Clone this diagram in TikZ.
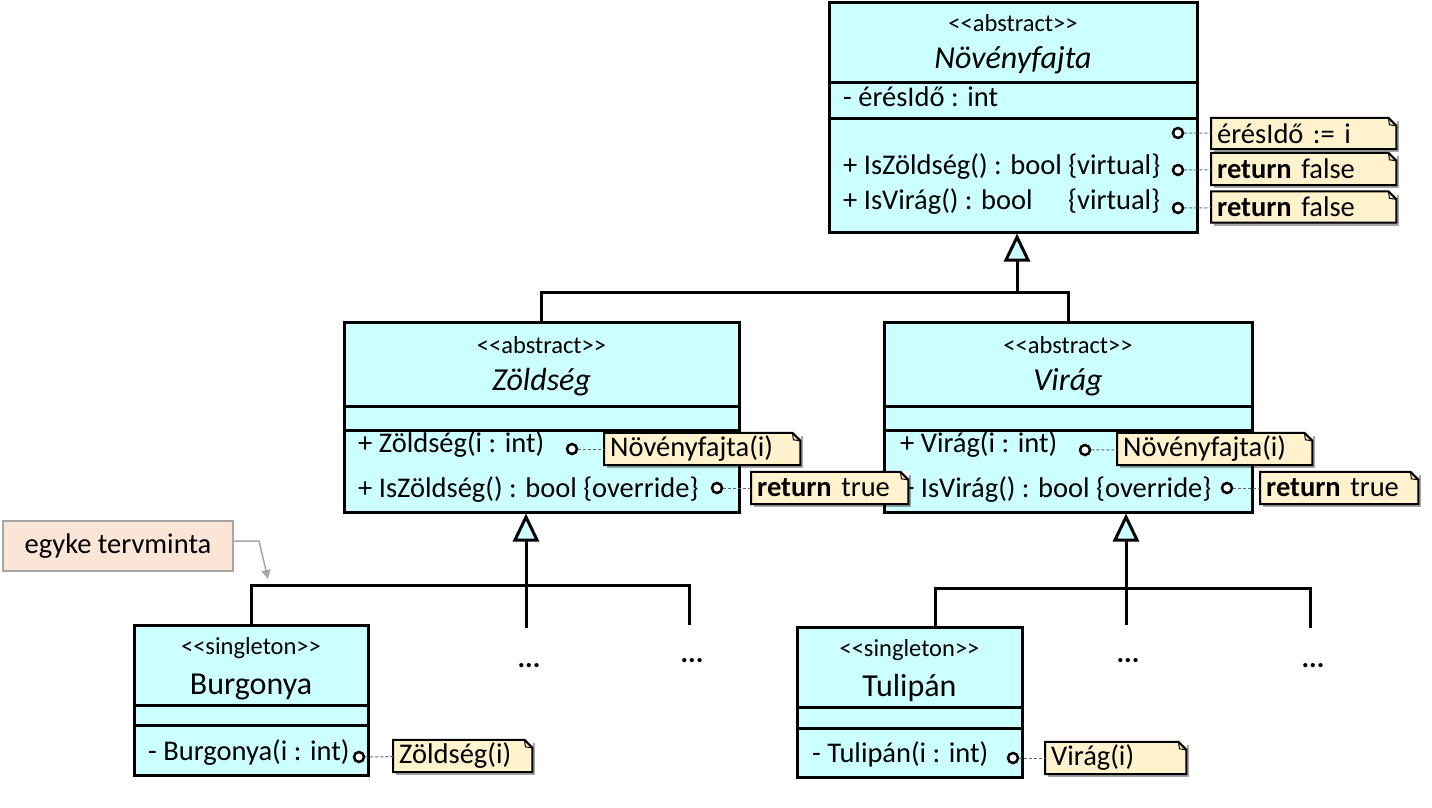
\documentclass[tikz,border=0pt]{standalone}
\usepackage{fontspec}
\setmainfont{Carlito}
\usetikzlibrary{arrows.meta,shadows}
\definecolor{clsfill}{HTML}{CCFFFF}
\definecolor{notefill}{HTML}{FFF2CC}
\definecolor{callfill}{HTML}{FBE5D6}
\definecolor{callline}{HTML}{A6A6A6}
\newcommand\stlt{<\kern0pt<}
\newcommand\stgt{>\kern0pt>}
\newcommand\bodysz{\fontsize{28.5}{32}\selectfont}
\newcommand\notedeco[1]{%
  \fill[white] ([xshift=-8pt]#1.north east) -- ([xshift=1pt,yshift=1pt]#1.north east) -- ([yshift=-8pt]#1.north east) -- cycle;
  \draw[noteline] ([xshift=-8pt]#1.north east) -- (#1.north west) -- (#1.south west) -- (#1.south east) -- ([yshift=-8pt]#1.north east) -- cycle;
  \draw[line width=1pt] ([xshift=-8pt]#1.north east) -- ([xshift=-7pt,yshift=-7pt]#1.north east) -- ([yshift=-8pt]#1.north east);
}
\begin{document}
\begin{tikzpicture}[x=1pt,y=-1pt,
  clsbox/.style={draw=black, line width=3pt, fill=clsfill, inner sep=0pt},
  cline/.style={line width=3pt},
  stereo/.style={font=\fontsize{24.5}{28}\selectfont, anchor=base, inner sep=0pt},
  cname/.style={font=\fontsize{32}{36}\selectfont, anchor=base, inner sep=0pt},
  member/.style={font=\bodysz, anchor=base west, inner sep=0pt},
  lolli/.style={circle, draw=black, fill=white, line width=2.5pt, minimum size=10pt, inner sep=0pt},
  note/.style={fill=notefill, font=\bodysz, anchor=west, minimum height=32pt, inner xsep=6pt, inner ysep=0pt, align=left,
    drop shadow={shadow xshift=3pt, shadow yshift=-3pt, opacity=0.35, fill=black}},
  noteline/.style={line width=2pt, line join=miter},
  notelink/.style={draw=black!60, line width=1pt, dashed, dash pattern=on 3pt off 2pt},
  inh/.style={line width=3pt, -{Triangle[open, length=28pt, width=26pt, fill=clsfill]}},
  branch/.style={line width=3pt},
  dots/.style={font=\bodysz\bfseries, inner sep=0pt},
  callout/.style={draw=callline, fill=callfill, line width=1.5pt, font=\bodysz, minimum width=230pt, minimum height=50pt, inner sep=0pt},
  callarrow/.style={draw=callline, line width=1.5pt, -{Triangle[length=9pt, width=9pt]}}
]
\useasboundingbox (0,0) rectangle (1432,807);

% ---------- Növényfajta ----------
\node[clsbox, minimum width=368pt, minimum height=230pt] (nf) at (1013,117) {};
\draw[cline] (nf.west |- 0,82) -- (nf.east |- 0,82);
\draw[cline] (nf.west |- 0,118) -- (nf.east |- 0,118);
\node[stereo] (nf-st) at (1013,31) {\stlt abstract\stgt};
\node[cname] (nf-nm) at (1013,68) {\itshape Növényfajta};
\node[member] (nf-a1) at (843,106) {- érésIdő : int};
\node[member] (nf-m1) at (843,174) {+ IsZöldség() : bool \{virtual\}};
\node[member] (nf-m2) at (843,209) {+ IsVirág() : bool};
\node[member] (nf-m2b) at (1068,209) {\{virtual\}};
\node[lolli] (c1) at (1178,133) {};
\node[lolli] (c2) at (1178,170) {};
\node[lolli] (c3) at (1178,208) {};

% ---------- Zöldség ----------
\node[clsbox, minimum width=395pt, minimum height=190pt] (zs) at (541.5,417) {};
\draw[cline] (zs.west |- 0,406) -- (zs.east |- 0,406);
\draw[cline] (zs.west |- 0,430) -- (zs.east |- 0,430);
\node[stereo] (zs-st) at (541.5,353) {\stlt abstract\stgt};
\node[cname] (zs-nm) at (541.5,390) {\itshape Zöldség};
\node[member] (zs-m1) at (358,452) {+ Zöldség(i : int)};
\node[member] (zs-m2) at (358,497) {+ IsZöldség() : bool \{override\}};
\node[lolli] (c4) at (572,449) {};
\node[lolli] (c5) at (717,488) {};

% ---------- Virág ----------
\node[clsbox, minimum width=368pt, minimum height=190pt] (vi) at (1068,417) {};
\draw[cline] (vi.west |- 0,406) -- (vi.east |- 0,406);
\draw[cline] (vi.west |- 0,430) -- (vi.east |- 0,430);
\node[stereo] (vi-st) at (1068,353) {\stlt abstract\stgt};
\node[cname] (vi-nm) at (1068,390) {\itshape Virág};
\node[member] (vi-m1) at (900,452) {+ Virág(i : int)};
\node[member] (vi-m2) at (900,497) {+ IsVirág() : bool \{override\}};
\node[lolli] (c6) at (1085,450) {};
\node[lolli] (c7) at (1227,488) {};

% ---------- Burgonya ----------
\node[clsbox, minimum width=234pt, minimum height=150pt] (bu) at (251,700) {};
\draw[cline] (bu.west |- 0,705) -- (bu.east |- 0,705);
\draw[cline] (bu.west |- 0,725) -- (bu.east |- 0,725);
\node[stereo] (bu-st) at (251,654) {\stlt singleton\stgt};
\node[cname] (bu-nm) at (251,694) {Burgonya};
\node[member] (bu-m1) at (148,760) {- Burgonya(i : int)};
\node[lolli] (c8) at (359,757) {};

% ---------- Tulipán ----------
\node[clsbox, minimum width=225pt, minimum height=150pt] (tu) at (909.5,702) {};
\draw[cline] (tu.west |- 0,707) -- (tu.east |- 0,707);
\draw[cline] (tu.west |- 0,728) -- (tu.east |- 0,728);
\node[stereo] (tu-st) at (909.5,656) {\stlt singleton\stgt};
\node[cname] (tu-nm) at (909.5,696) {Tulipán};
\node[member] (tu-m1) at (812,762) {- Tulipán(i : int)};
\node[lolli] (c9) at (1013,758) {};

% ---------- generalizations ----------
\coordinate (j1) at (1017,292);
\draw[branch] (zs.north) |- (j1) -| (vi.north);
\draw[inh] (j1) -- (j1 |- nf.south);

\coordinate (j2) at (526,585);
\coordinate (e1) at (526,628);
\coordinate (e2) at (689,625);
\draw[branch] (bu.north) |- (j2) -- (e1);
\draw[branch] (j2) -| (e2);
\draw[inh] (j2) -- (j2 |- zs.south);

\coordinate (j3) at (1126,588);
\coordinate (e3) at (1126,625);
\coordinate (e4) at (1310,628);
\coordinate (tx) at (935,0);
\draw[branch] (tu.north -| tx) |- (j3) -- (e3);
\draw[branch] (j3) -| (e4);
\draw[inh] (j3) -- (j3 |- vi.south);

\node[dots] (d1) at (529,666) {...};
\node[dots] (d2) at (692,661) {...};
\node[dots] (d3) at (1128,661) {...};
\node[dots] (d4) at (1313,666) {...};

% ---------- notes ----------
\node[note, text width=173pt, minimum height=31pt] (n1) at (1211,133.5) {érésIdő := i};
\node[note, text width=173pt] (n2) at (1211,169) {\textbf{return} false};
\node[note, text width=173pt, minimum height=31pt] (n3) at (1211,207) {\textbf{return} false};
\node[note, text width=184pt] (n4) at (604,449) {Növényfajta(i)};
\node[note, text width=145pt] (n5) at (751,488) {\textbf{return} true};
\node[note, text width=183pt] (n6) at (1117,449) {Növényfajta(i)};
\node[note, text width=146pt] (n7) at (1260,488) {\textbf{return} true};
\node[note, text width=127pt] (n8) at (393,756) {Zöldség(i)};
\node[note, text width=129pt] (n9) at (1045,758) {Virág(i)};
\foreach \n in {n1,n2,n3,n4,n5,n6,n7,n8,n9} {\notedeco{\n}}

\draw[notelink] (c1) -- (n1);
\draw[notelink] (c2) -- (n2);
\draw[notelink] (c3) -- (n3);
\draw[notelink] (c4) -- (n4);
\draw[notelink] (c5) -- (n5);
\draw[notelink] (c6) -- (n6);
\draw[notelink] (c7) -- (n7);
\draw[notelink] (c8) -- (n8);
\draw[notelink] (c9) -- (n9);

% ---------- callout ----------
\node[callout] (eg) at (118,546) {egyke tervminta};
\coordinate (eb) at (259,541);
\coordinate (et) at (268,579);
\draw[callarrow] ([yshift=5pt]eg.east) -- (eb) -- (et);
\end{tikzpicture}
\end{document}
